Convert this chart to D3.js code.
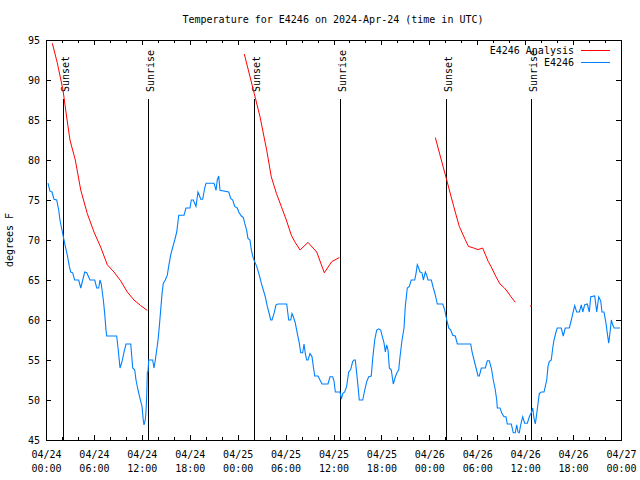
<!DOCTYPE html>
<html>
<head>
<meta charset="utf-8">
<script src="https://cdn.jsdelivr.net/npm/d3@7"></script>
<style>
  html, body { margin: 0; padding: 0; background: #fff; }
  svg text { font-family: "DejaVu Sans Mono", "Liberation Mono", monospace; font-size: 10px; fill: #000; }
</style>
</head>
<body>
<svg id="chart" width="640" height="480"></svg>
<script>
// ---------------- data ----------------
const chartTitle = "Temperature for E4246 on 2024-Apr-24 (time in UTC)";
const yLabel = "degrees F";
const startTime = "2024-04-24T00:00:00Z";
const endTime = "2024-04-27T00:00:00Z";
const yTicks = [45, 50, 55, 60, 65, 70, 75, 80, 85, 90, 95];
const seriesNames = ["E4246 Analysis", "E4246"];

// observed station temperature: [hours since start, degF]
const observed = [
[0.25,77.1],[0.50,76.1],[0.75,76],[1.00,75.1],[1.34,75],[1.59,73.75],[1.75,72.5],[2.00,71.25],[2.17,70.4],[2.42,69.2],
[2.67,68.1],[2.92,66.7],[3.09,66],[3.34,65.9],[3.59,65],[4.09,65],[4.35,64],[4.60,65],[4.85,66],[5.10,65.9],
[5.51,65],[6.10,65],[6.35,64],[6.60,64],[6.76,65],[6.92,64.5],[7.18,62.5],[7.35,60.8],[7.51,58.75],[7.60,58],
[8.85,58],[9.02,56.5],[9.27,54],[9.52,54.8],[9.77,56],[10.02,57],[10.61,57],[10.86,54],[11.11,53.75],[11.27,52.5],
[11.52,51.25],[11.77,50.2],[12.02,49.2],[12.18,47.5],[12.27,46.9],[12.43,47.5],[12.52,48.5],[12.61,50.5],[12.69,53.5],[12.77,53.5],
[12.86,55],[13.36,55],[13.52,54],[13.69,55],[13.86,56.25],[14.03,57.5],[14.19,59.2],[14.36,61.25],[14.53,63.3],[14.69,64.6],
[14.94,65],[15.19,65.6],[15.36,66.7],[15.61,68.1],[15.87,69.1],[16.12,70],[16.37,71],[16.62,73.1],[17.28,73.1],[17.53,74],
[18.03,74],[18.19,75],[18.44,75],[18.78,74.2],[19.03,76],[19.20,75.6],[19.37,75.1],[19.62,75.1],[19.87,76.5],[20.04,77.1],
[21.04,77.1],[21.29,76.2],[21.45,77.5],[21.63,78],[21.79,76.2],[22.88,76],[23.13,75.2],[23.38,75],[23.63,74.2],[23.96,74],
[24.13,73.5],[24.46,73],[24.71,72.8],[24.88,72.1],[25.13,71.2],[25.29,70.2],[25.54,70],[25.71,68.75],[25.96,67.7],[26.13,67.3],
[26.38,66.7],[26.71,65.6],[26.96,64.6],[27.21,63.75],[27.46,62.9],[27.71,61.7],[27.96,60.75],[28.14,60],[28.30,60],[28.55,60.8],
[28.80,61.9],[29.05,62],[30.14,62],[30.39,60],[30.64,60],[30.80,60.8],[30.97,60.4],[31.22,59.6],[31.47,58.3],[31.72,57.1],
[31.89,55.9],[32.14,55.9],[32.31,57],[32.47,55.8],[32.65,55],[32.81,55],[33.06,55.8],[33.31,55.4],[33.47,54.2],[33.65,53],
[34.06,53],[34.31,52.5],[34.56,52],[35.31,52],[35.56,52.9],[35.90,52.9],[36.06,52.4],[36.23,51],[36.81,51],[36.98,50.1],
[37.15,50.8],[37.40,51],[37.65,51.7],[37.90,53.5],[38.15,53.8],[38.40,54.8],[38.57,55],[38.73,55],[38.91,53.3],[39.07,51.7],
[39.23,50],[39.66,50],[39.91,51.25],[40.16,52.3],[40.41,52.9],[40.73,53],[40.91,55.2],[41.16,57.5],[41.41,58.75],[41.66,58.9],
[41.91,58.75],[42.07,58.1],[42.33,57.1],[42.49,56],[42.66,56.9],[42.83,56.25],[42.99,54],[43.24,53.75],[43.41,52.5],[43.49,52],
[43.74,52.9],[43.99,53.5],[44.16,53.75],[44.33,55.4],[44.58,57.5],[44.83,59],[44.99,61.7],[45.24,64],[45.49,64.2],[45.74,65],
[46.17,65],[46.33,65.8],[46.49,66.9],[46.67,66.5],[46.83,66],[47.08,65.9],[47.25,65],[47.50,66],[47.67,65.6],[47.83,65],
[48.25,65],[48.50,64],[48.75,63.1],[49.00,62],[49.67,62],[49.92,61.3],[50.18,60],[50.43,59],[50.68,58.75],[50.93,58.1],
[51.25,58],[51.51,57],[53.18,57],[53.35,56],[53.60,55],[53.85,54],[54.10,53],[54.26,53],[54.51,54],[55.01,54],
[55.26,54.9],[55.51,54.9],[55.76,54],[56.01,52.5],[56.26,51.25],[56.44,50],[56.51,49],[56.85,49],[57.10,48.3],[57.35,47.9],
[57.60,47.9],[57.76,47],[58.26,47],[58.51,45.9],[58.76,45.9],[58.94,46.9],[59.10,46],[59.26,45.9],[59.44,46.9],[59.69,47.9],
[59.94,47.1],[60.27,47.1],[60.52,47.9],[60.77,48.4],[60.94,49],[61.11,47.7],[61.27,47],[61.45,48.3],[61.61,49.6],[61.77,50.8],
[62.02,51],[62.36,51],[62.52,51.7],[62.70,52.5],[62.86,54.2],[63.02,54.8],[63.27,55],[63.45,56.5],[63.61,57.5],[63.86,58.5],
[64.02,59],[64.52,59],[64.77,58],[65.02,59],[65.53,59],[65.78,60],[65.96,60.8],[66.20,61.8],[66.45,61],[66.78,61],
[67.03,61.9],[67.21,61],[67.46,61.9],[67.78,62],[68.03,61],[68.21,62.9],[68.71,63],[68.96,61],[69.21,62.9],[69.46,62.4],
[69.62,61],[69.87,61],[70.12,59.6],[70.29,58.3],[70.46,57.1],[70.62,58.4],[70.79,60],[70.96,59.4],[71.13,59],[71.88,59]
];

// analysis runs: [hours since start, degF]
const analysisRun1 = [
[0.79,94.6],[1.40,92.2],[2.13,88.75],[2.50,86.0],[3.00,82.5],[3.67,80],[4.35,76.25],[5.17,73.3],[6.01,71],
[6.85,69.1],[7.68,66.9],[8.51,66],[9.35,64.9],[10.18,63.5],[11.02,62.5],[11.86,61.8],[12.68,61.2]
];
const analysisRun2 = [
[24.83,93.25],[26.08,88.3],[26.80,85.4],[27.64,81.2],[28.21,77.9],[28.86,75.8],[29.46,74.2],[30.09,72.5],
[30.72,70.6],[31.14,69.8],[31.81,68.75],[32.81,69.7],[33.90,68.5],[34.85,65.9],[35.78,67.3],[36.73,67.8]
];
const analysisRun3 = [
[48.75,82.8],[49.50,80],[50.15,77.6],[51.05,74.2],[51.75,71.7],[52.49,70.05],[52.90,69.2],[53.55,69],[54.09,68.8],
[54.68,69],[55.38,67.3],[55.72,66.7],[56.35,65.4],[56.85,64.5],[57.41,64],[57.81,63.5],[58.23,62.9],[58.77,62.2]
];
const analysisRun4 = [[60.73,61.75]];

// sunrise / sunset: [label, hours since start]
const sunEvents = [
["Sunset", 2.13], ["Sunrise", 12.81], ["Sunset", 26.08], ["Sunrise", 36.85], ["Sunset", 50.13], ["Sunrise", 60.77]
];

// ---------------- drawing ----------------
const svg = d3.select("#chart");
const plotL = 46, plotR = 621, plotT = 40, plotB = 440;
const t0 = new Date(startTime), t1 = new Date(endTime);
const toDate = h => new Date(t0.getTime() + h * 3600e3);

const x = d3.scaleUtc().domain([t0, t1]).range([plotL, plotR]);
const y = d3.scaleLinear().domain([45, 95]).range([plotB, plotT]);

const red = "#ff0000", blue = "#0080ff";

// title
svg.append("text").attr("x", 333).attr("y", 23).attr("text-anchor", "middle").text(chartTitle);

// y label
svg.append("text")
  .attr("transform", `translate(13,${(plotT + plotB) / 2}) rotate(-90)`)
  .attr("text-anchor", "middle").text(yLabel);

const majorTicks = d3.utcHour.every(6).range(t0, new Date(t1.getTime() + 1));
const minorTicks = d3.utcHour.every(2).range(t0, new Date(t1.getTime() + 1))
  .filter(d => d.getUTCHours() % 6 !== 0);

function styleAxis(g) {
  g.select(".domain").remove();
  g.attr("font-family", null).attr("font-size", null);
  g.selectAll("line").attr("stroke", "#000").attr("shape-rendering", "crispEdges");
}

// bottom axis (major with labels)
const fmtDay = d3.utcFormat("%m/%d"), fmtHour = d3.utcFormat("%H:%M");
const gB = svg.append("g").attr("transform", `translate(0,${plotB})`)
  .call(d3.axisBottom(x).tickValues(majorTicks).tickSizeInner(-5).tickSizeOuter(0).tickPadding(0).tickFormat(""))
  .call(styleAxis);
gB.selectAll(".tick text").each(function(d) {
  const t = d3.select(this).attr("y", null).attr("dy", null);
  t.append("tspan").attr("x", 0).attr("y", 18).text(fmtDay(d));
  t.append("tspan").attr("x", 0).attr("y", 32).text(fmtHour(d));
});
svg.append("g").attr("transform", `translate(0,${plotB})`)
  .call(d3.axisBottom(x).tickValues(minorTicks).tickSizeInner(-3).tickSizeOuter(0).tickFormat(""))
  .call(styleAxis);

// top axis mirror
svg.append("g").attr("transform", `translate(0,${plotT})`)
  .call(d3.axisTop(x).tickValues(majorTicks).tickSizeInner(-5).tickSizeOuter(0).tickFormat(""))
  .call(styleAxis);
svg.append("g").attr("transform", `translate(0,${plotT})`)
  .call(d3.axisTop(x).tickValues(minorTicks).tickSizeInner(-3).tickSizeOuter(0).tickFormat(""))
  .call(styleAxis);

// left / right axes
svg.append("g").attr("transform", `translate(${plotL},0)`)
  .call(d3.axisLeft(y).tickValues(yTicks).tickSizeInner(-5).tickSizeOuter(0).tickPadding(6).tickFormat(d3.format("d")))
  .call(styleAxis)
  .selectAll("text").attr("dy", "0.35em");
svg.append("g").attr("transform", `translate(${plotR},0)`)
  .call(d3.axisRight(y).tickValues(yTicks).tickSizeInner(-5).tickSizeOuter(0).tickFormat(""))
  .call(styleAxis);

// frame
svg.append("rect").attr("x", plotL + 0.5).attr("y", plotT + 0.5)
  .attr("width", plotR - plotL).attr("height", plotB - plotT)
  .attr("fill", "none").attr("stroke", "#000").attr("shape-rendering", "crispEdges");

// sun events
const sunG = svg.append("g");
sunEvents.forEach(([label, h]) => {
  const px = Math.round(x(toDate(h))) + 0.5;
  sunG.append("line").attr("x1", px).attr("x2", px).attr("y1", 99).attr("y2", plotB)
    .attr("stroke", "#000").attr("stroke-width", 1.2).attr("shape-rendering", "crispEdges");
  sunG.append("text").attr("transform", `translate(${px + 5},92) rotate(-90)`)
    .attr("text-anchor", "start").text(label);
});

// lines
const line = d3.line().x(d => x(toDate(d[0]))).y(d => y(d[1]));

[analysisRun1, analysisRun2, analysisRun3].forEach(run => {
  svg.append("path").datum(run).attr("d", line)
    .attr("fill", "none").attr("stroke", red).attr("stroke-width", 1);
});
analysisRun4.forEach(d => {
  svg.append("rect").attr("x", x(toDate(d[0])) - 0.5).attr("y", y(d[1]) - 1)
    .attr("width", 1).attr("height", 2).attr("fill", red);
});

svg.append("path").datum(observed).attr("d", line)
  .attr("fill", "none").attr("stroke", blue).attr("stroke-width", 1.1);

// legend
const legend = svg.append("g");
[[seriesNames[0], red, 50], [seriesNames[1], blue, 62]].forEach(([name, col, ly]) => {
  legend.append("text").attr("x", 574).attr("y", ly).attr("dy", "0.35em")
    .attr("text-anchor", "end").text(name);
  legend.append("line").attr("x1", 581).attr("x2", 610).attr("y1", ly + 0.5).attr("y2", ly + 0.5)
    .attr("stroke", col).attr("stroke-width", 1).attr("shape-rendering", "crispEdges");
});
</script>
</body>
</html>
